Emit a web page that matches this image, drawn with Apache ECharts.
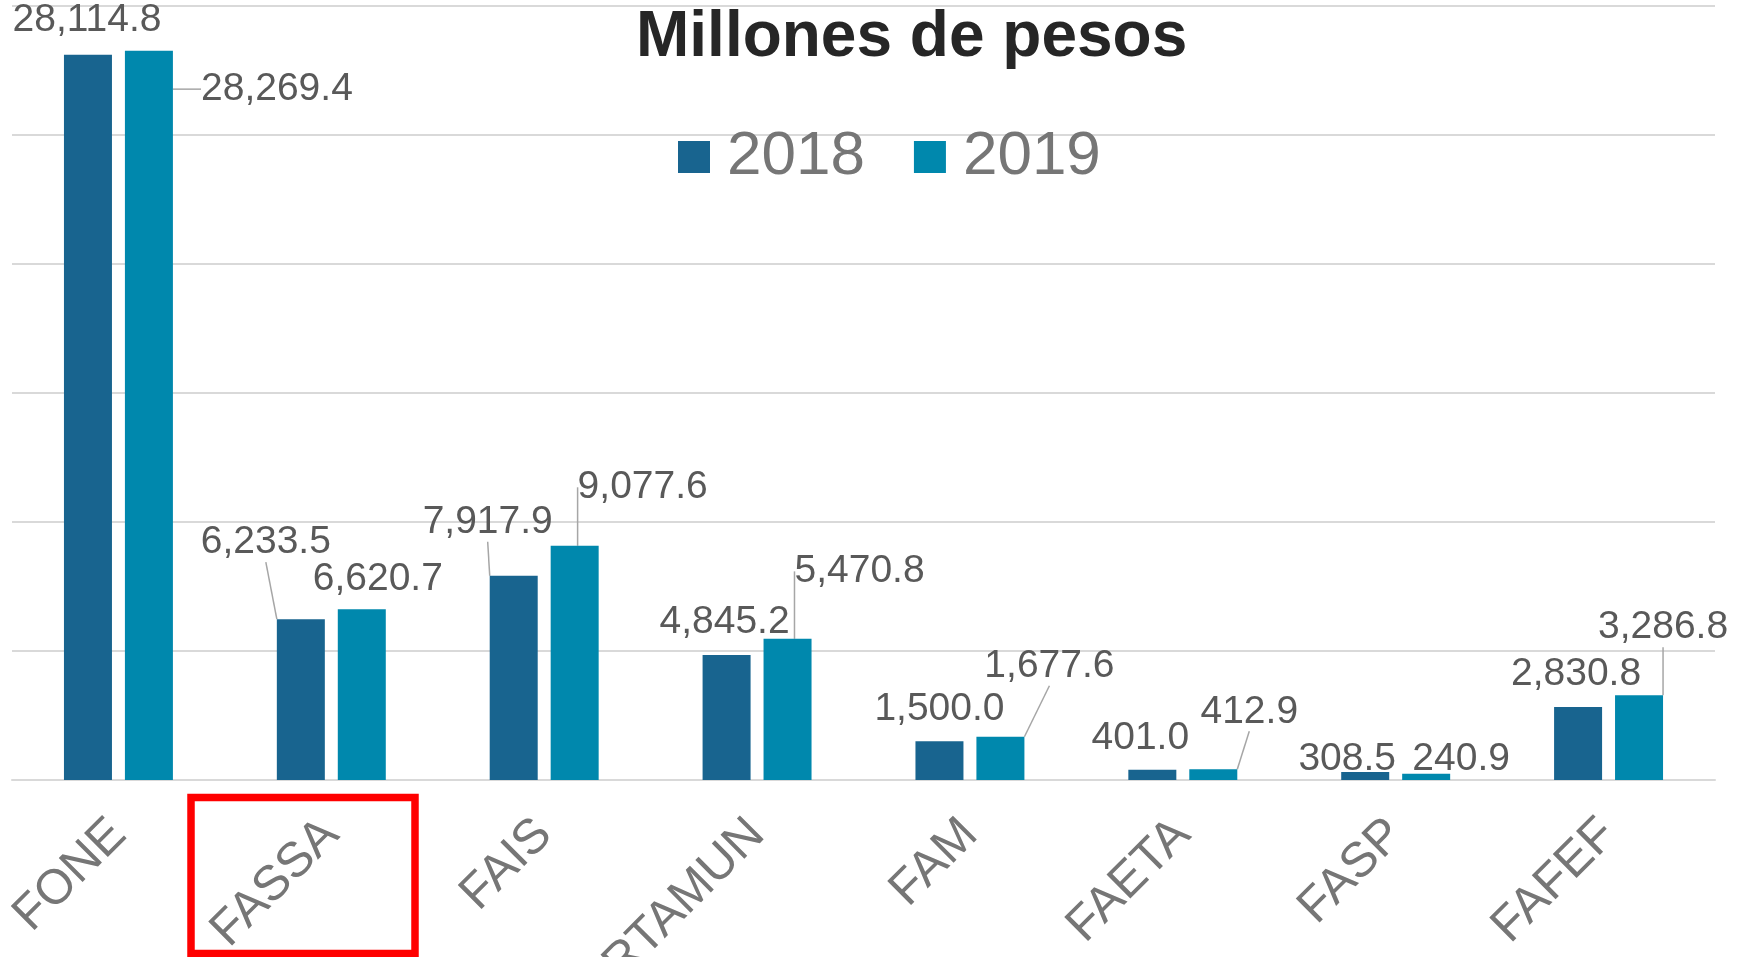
<!DOCTYPE html>
<html>
<head>
<meta charset="utf-8">
<script src="https://cdn.jsdelivr.net/npm/echarts@6/dist/echarts.min.js"></script>
<style>
  html, body { margin: 0; padding: 0; background: #fff; }
  #main { width: 1750px; height: 957px; }
</style>
</head>
<body>
<div id="main"></div>
<script>
// datos
const categories = ['FONE', 'FASSA', 'FAIS', 'FORTAMUN', 'FAM', 'FAETA', 'FASP', 'FAFEF'];
const values2018 = [28114.8, 6233.5, 7917.9, 4845.2, 1500.0, 401.0, 308.5, 2830.8];
const values2019 = [28269.4, 6620.7, 9077.6, 5470.8, 1677.6, 412.9, 240.9, 3286.8];
const yTicks = [0, 5000, 10000, 15000, 20000, 25000, 30000];

// desplazamiento de etiquetas (como en Excel) y lineas guia
const labelShift = [
  [[-1, -10], [-35, -52], [-26, -29], [-2, -8], [0, -8], [-12, -7], [-18, 12], [-2, -8]],
  [[128, 63], [16, -5], [68, -34], [72, -43], [49, -46], [36, -33], [35, 10], [24, -43]]
];
const leader = [
  [false, true, true, false, false, false, false, false],
  [true, false, true, true, true, true, false, true]
];

const fmt = v => v.toLocaleString('en-US', {minimumFractionDigits: 1, maximumFractionDigits: 1});
const font = '"Liberation Sans", Arial, sans-serif';

function buildData(vals, s) {
  return vals.map((v, i) => ({
    value: v,
    labelLine: {show: leader[s][i]}
  }));
}

const barLabel = {
  show: true,
  position: 'top',
  fontSize: 39,
  color: '#595959',
  fontFamily: font,
  formatter: p => fmt(p.value)
};
const line = {lineStyle: {color: '#a6a6a6', width: 1.5}};

let chart = echarts.init(document.getElementById('main'));
chart.setOption({
  animation: false,
  title: {
    text: 'Millones de pesos',
    left: 636,
    top: 6,
    padding: 0,
    textStyle: {fontSize: 64, fontWeight: 'bold', color: '#262626', fontFamily: font}
  },
  legend: {
    data: ['2018', '2019'],
    left: 678,
    top: 126,
    padding: 0,
    icon: 'rect',
    itemWidth: 32,
    itemHeight: 32,
    itemGap: 49,
    textStyle: {fontSize: 62, color: '#767676', fontFamily: font, padding: [0, 0, 0, 12]}
  },
  grid: {left: 12, right: 35, top: 6, bottom: 177, containLabel: false, outerBoundsMode: 'none'},
  xAxis: {
    type: 'category',
    data: categories,
    axisTick: {show: false},
    axisLine: {lineStyle: {color: '#d9d9d9', width: 2}},
    axisLabel: {rotate: 45, margin: 47, fontSize: 49, color: '#767676', fontFamily: font, interval: 0}
  },
  yAxis: {
    type: 'value',
    min: yTicks[0],
    max: yTicks[yTicks.length - 1],
    interval: yTicks[1] - yTicks[0],
    axisLabel: {show: false},
    axisLine: {show: false},
    axisTick: {show: false},
    splitLine: {lineStyle: {color: '#d9d9d9', width: 2}}
  },
  series: [{
    name: '2018',
    type: 'bar',
    barWidth: 48,
    barGap: '27%',
    itemStyle: {color: '#18648f'},
    label: barLabel,
    labelLine: line,
    labelLayout: p => ({dx: labelShift[0][p.dataIndex][0], dy: labelShift[0][p.dataIndex][1]}),
    data: buildData(values2018, 0)
  }, {
    name: '2019',
    type: 'bar',
    barWidth: 48,
    barGap: '27%',
    itemStyle: {color: '#0088ad'},
    label: barLabel,
    labelLine: line,
    labelLayout: p => ({dx: labelShift[1][p.dataIndex][0], dy: labelShift[1][p.dataIndex][1]}),
    data: buildData(values2019, 1)
  }],
  graphic: [{
    type: 'rect',
    shape: {x: 191, y: 797.5, width: 224, height: 156},
    style: {fill: 'none', stroke: '#ff0000', lineWidth: 7.5}
  }]
});
</script>
</body>
</html>
